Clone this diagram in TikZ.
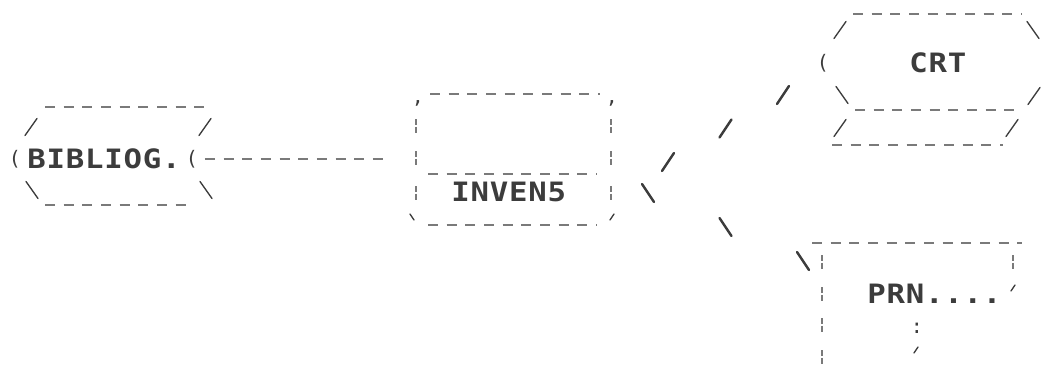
\documentclass[tikz,border=0pt]{standalone}
\usepackage{fontspec}
\newfontfamily\dotfont[FakeStretch=1.15,LetterSpace=3]{DejaVu Sans Mono Bold}
\newfontfamily\markfont{DejaVu Sans Mono}
\usetikzlibrary{calc}

\definecolor{ink}{HTML}{3C3C3C}
\definecolor{ribbon}{HTML}{7A7A7A}

\tikzset{
  lbl/.style={inner sep=0pt, anchor=west, text=ink,
    font=\dotfont\fontsize{20pt}{20pt}\selectfont},
  chr/.style={inner sep=0pt, text=ink,
    font=\markfont\fontsize{15pt}{15pt}\selectfont},
  rule/.style={draw=ribbon, line width=1.1pt, dash pattern=on 7.5pt off 6.5pt},
  bar/.style={draw=ribbon, line width=1.3pt, dash pattern=on 4.6pt off 1.3pt},
  tick/.style={draw=ink, line width=1pt, line cap=round},
  link/.style={draw=ink, line width=1.8pt, line cap=round},
  fwd/.pic={\draw[tick] (-6,8.5) -- (6,-8.5);},
  bwd/.pic={\draw[tick] (-6,-8.5) -- (6,8.5);},
  lfwd/.pic={\draw[link] (-6,9) -- (6,-9);},
  lbwd/.pic={\draw[link] (-6,-9) -- (6,9);},
  nickf/.pic={\draw[tick] (-2,3) -- (2,-3);},
  nickb/.pic={\draw[tick] (-2,-3) -- (2,3);},
  vbar/.pic={\draw[bar] (0,-7) -- (0,7);},
}

\begin{document}
\begin{tikzpicture}[x=0.75pt, y=-0.75pt]
  \fill[white] (0,0) rectangle (1045,364);
  \useasboundingbox (0,0) rectangle (1045,364);

  % labels
  \node[lbl] (bib) at (27,159) {BIBLIOG.};
  \node[lbl] (inv) at (451,192) {INVEN5};
  \node[lbl] (crt) at (909,63) {CRT};
  \node[lbl] (prn) at (867,294) {PRN....};

  % BIBLIOG. file
  \node[chr] (bib-l) at (15,159) {(};
  \node[chr] (bib-r) at (192,159) {(};
  \draw[rule] (45,107) -- (213,107);
  \draw[rule] (45,205) -- (192,205);
  \pic at (31,127) {fwd};
  \pic at (205,127) {fwd};
  \pic at (32,190) {bwd};
  \pic at (206,190) {bwd};

  % INVEN5 program
  \draw[rule] (430,94) -- (600,94);
  \node[chr] (inv-c1) at (418,103) {,};
  \node[chr] (inv-c2) at (612,103) {,};
  \foreach \y in {126,158,193} {
    \pic at (416,\y) {vbar};
    \pic at (611,\y) {vbar};
  }
  \draw[rule] (428,174) -- (597,174);
  \pic at (412,217) {nickb};
  \pic at (612,217) {nickf};
  \draw[rule] (428,225) -- (597,225);
  \coordinate (inv-w) at (387,159);

  % CRT display
  \node[chr] (crt-l) at (823,63) {(};
  \draw[rule] (853,14) -- (1022,14);
  \pic at (840,30) {fwd};
  \pic at (1033,30) {bwd};
  \pic at (842,95) {bwd};
  \pic at (1034,96) {fwd};
  \draw[rule] (855,110) -- (1022,110);
  \pic at (840,128) {fwd};
  \pic at (1012,128) {fwd};
  \draw[rule] (832,145) -- (1003,145);

  % PRN printout
  \draw[rule] (812,243) -- (1022,243);
  \foreach \y in {262,294,325,357} \pic at (822,\y) {vbar};
  \pic at (1013,262) {vbar};
  \pic at (1013,288) {nickf};
  \node[chr] (prn-dots) at (917,328) {:};
  \pic at (916,350) {nickf};

  % connections
  \draw[rule] ([xshift=5pt]bib-r.east) -- (inv-w);
  \coordinate (up-a) at (668,162);
  \coordinate (up-b) at (783,95);
  \foreach \t in {0,0.5,1} \pic at ($(up-a)!\t!(up-b)$) {lfwd};
  \coordinate (dn-a) at (648,193);
  \coordinate (dn-b) at (803,261);
  \foreach \t in {0,0.5,1} \pic at ($(dn-a)!\t!(dn-b)$) {lbwd};
\end{tikzpicture}
\end{document}
